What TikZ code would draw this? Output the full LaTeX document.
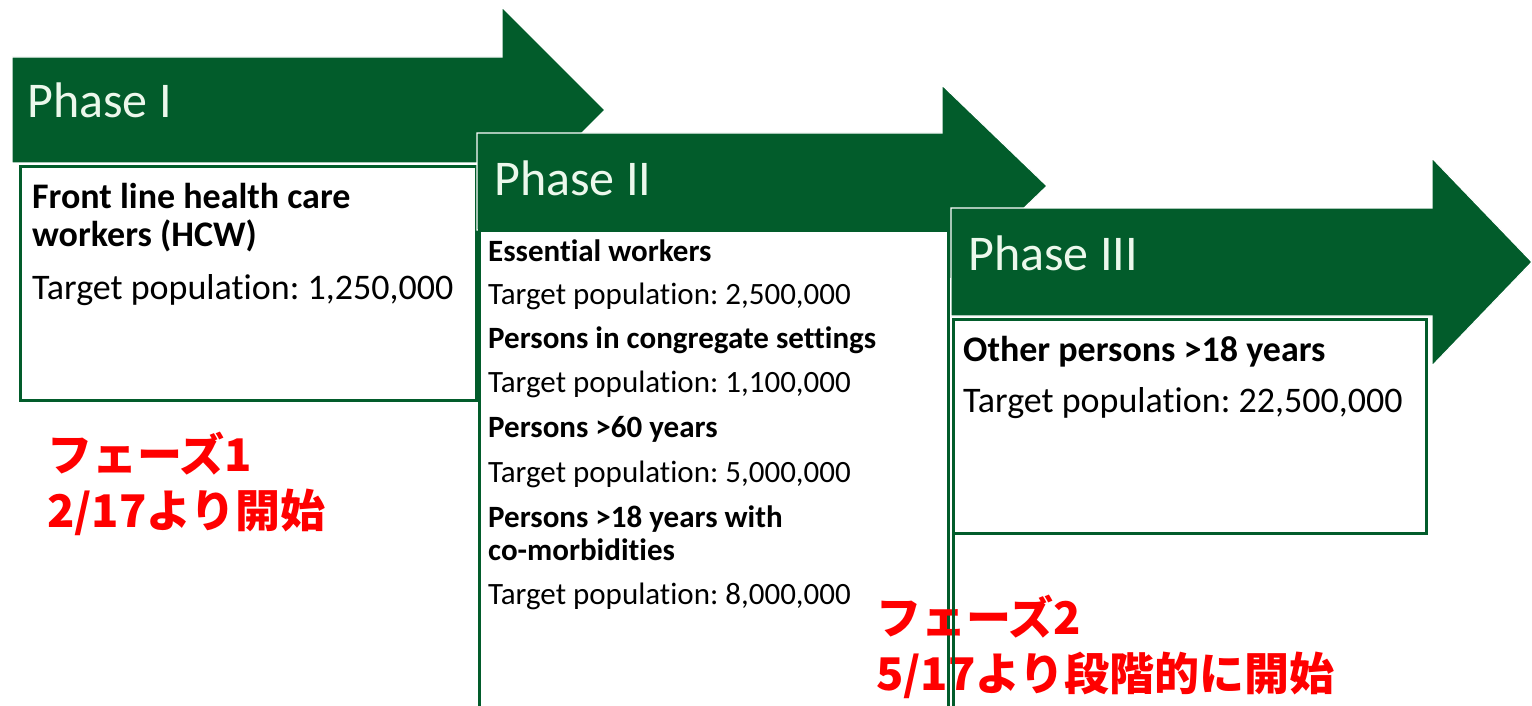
\documentclass[tikz,border=0pt]{standalone}
\usepackage{fontspec}
\setmainfont{Carlito}[Ligatures=NoCommon]
\newfontfamily\cjk{Noto Sans CJK JP}
\definecolor{phgreen}{RGB}{2,92,43}
\definecolor{phtext}{RGB}{236,248,236}
\definecolor{jred}{RGB}{255,0,0}
\frenchspacing
\begin{document}
\begin{tikzpicture}[x=1pt,y=-1pt,
  arrowshape/.style={fill=phgreen,draw=white,line width=1.2pt,line join=miter},
  phbox/.style={fill=white,draw=phgreen,line width=3pt},
  head/.style={anchor=base west,inner sep=0pt,text=phtext,font=\fontsize{50}{60}\selectfont},
  big/.style={anchor=base west,inner sep=0pt,font=\fontsize{36}{42}\selectfont},
  bigb/.style={big,font=\fontsize{36}{42}\selectfont\bfseries},
  small/.style={anchor=base west,inner sep=0pt,font=\fontsize{31}{36}\selectfont},
  smallb/.style={small,font=\fontsize{31}{36}\selectfont\bfseries},
  jp/.style={anchor=base west,inner sep=0pt,text=jred,font=\fontsize{45}{50}\selectfont\cjk\bfseries}]
\useasboundingbox (0,0) rectangle (1532,706);
\clip (0,0) rectangle (1532,706);
% Phase I
\draw[arrowshape] (12,57) -- (502,57) -- (502,7) -- (605,110) -- (502,213) -- (502,163) -- (12,163) -- cycle;
\node[head] (h1) at (27,118) {Phase I};
\draw[phbox] (20,167) rectangle (476,400);
\node[bigb] (a1) at (32,208) {Front line health care};
\node[bigb] (a2) at (32,246) {workers (HCW)};
\node[big] (a3) at (32,299) {Target population: 1,250,000};
% Phase II
\draw[arrowshape] (477,133) -- (942,133) -- (942,85) -- (1047,186) -- (942,287) -- (942,230) -- (477,230) -- cycle;
\node[head] (h2) at (494,196) {Phase II};
\draw[phbox] (479,230) rectangle (948,730);
\node[smallb] (b1) at (488,261) {Essential workers};
\node[small] (b2) at (488,304) {Target population: 2,500,000};
\node[smallb] (b3) at (488,348) {Persons in congregate settings};
\node[small] (b4) at (488,392) {Target population: 1,100,000};
\node[smallb] (b5) at (488,437) {Persons >60 years};
\node[small] (b6) at (488,482) {Target population: 5,000,000};
\node[smallb] (b7) at (488,527) {Persons >18 years with};
\node[smallb] (b8) at (488,560) {co-morbidities};
\node[small] (b9) at (488,604) {Target population: 8,000,000};
% Phase III
\draw[arrowshape] (951,208) -- (1432,208) -- (1432,158) -- (1532,262) -- (1432,366) -- (1432,316) -- (951,316) -- cycle;
\node[head] (h3) at (968,270) {Phase III};
\draw[phbox] (953,319) rectangle (1426,533);
\node[bigb] (c1) at (963,361) {Other persons >18 years};
\node[big] (c2) at (963,412) {Target population: 22,500,000};
% red notes
\node[jp] (j1) at (47,471) {フェーズ1};
\node[jp] (j2) at (47,527) {2/17より開始};
\node[jp] (j3) at (876,634) {フェーズ2};
\node[jp] (j4) at (876,690) {5/17より段階的に開始};
\coordinate (l1) at (953,533);
\coordinate (l2) at (953,730);
\draw[phgreen,line width=3pt] (l1) -- (l2);
\end{tikzpicture}
\end{document}
